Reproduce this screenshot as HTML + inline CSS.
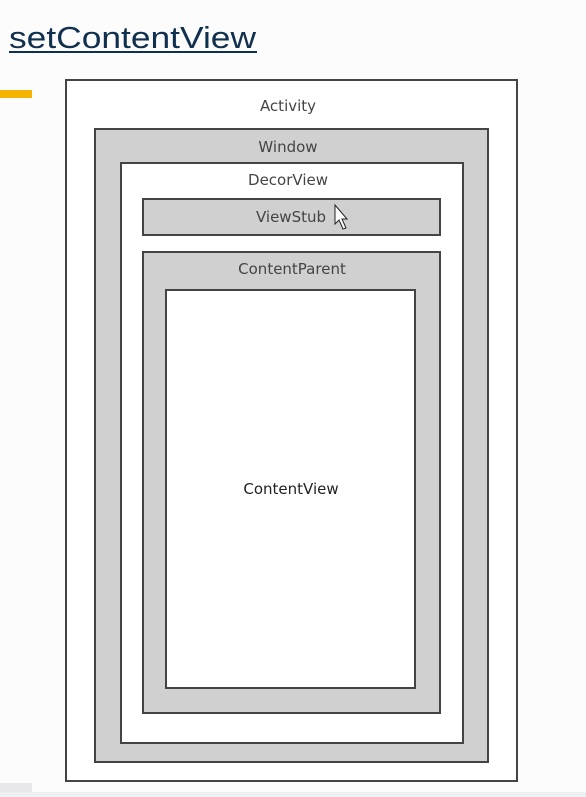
<!DOCTYPE html>
<html><head><meta charset="utf-8"><style>
html,body{margin:0;padding:0;background:#fcfcfc;width:586px;height:797px;overflow:hidden}
</style></head><body>
<svg width="586" height="797" xmlns="http://www.w3.org/2000/svg" style="position:absolute;left:0;top:0">
<rect x="0" y="0" width="586" height="797" fill="#fcfcfc"/>
<rect x="0" y="792" width="586" height="5" fill="#eef0f4"/>
<rect x="0" y="783" width="32" height="9" fill="#e8e8ea"/>
<text x="9" y="48" font-family="Liberation Sans, sans-serif" font-size="31" fill="#10304f" textLength="247" lengthAdjust="spacingAndGlyphs">setContentView</text>
<rect x="9" y="51" width="248" height="2" fill="#10304f"/>
<rect x="0" y="90" width="32" height="8" fill="#f5b400"/>
<g stroke="#444" stroke-width="2">
<rect x="66" y="80" width="451" height="701" fill="#ffffff"/>
<rect x="95" y="129" width="393" height="633" fill="#d0d0d0"/>
<rect x="121" y="163" width="342" height="580" fill="#ffffff"/>
<rect x="143" y="199" width="297" height="36" fill="#d0d0d0"/>
<rect x="143" y="252" width="297" height="461" fill="#d0d0d0"/>
<rect x="166" y="290" width="249" height="398" fill="#ffffff"/>
</g>
<g font-family="DejaVu Sans, sans-serif" font-size="15" fill="#444" text-anchor="middle">
<text x="288" y="111">Activity</text>
<text x="288" y="152">Window</text>
<text x="288" y="185">DecorView</text>
<text x="291" y="222">ViewStub</text>
<text x="292" y="274">ContentParent</text>
<text x="291" y="494" fill="#222">ContentView</text>
</g>
<path d="M335 205 L335 224 L339 220 L343 229 L346 228 L342 219 L347 219 Z" fill="#fff" stroke="#222" stroke-width="1"/>
</svg>
</body></html>
